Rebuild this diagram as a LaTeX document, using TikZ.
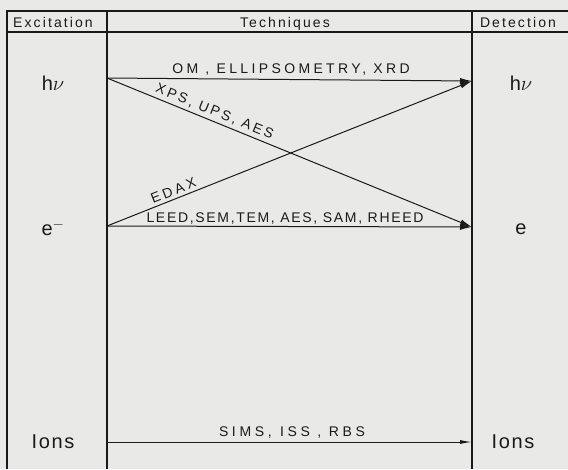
\documentclass[tikz,border=0pt]{standalone}
\usepackage{fontspec}
\setmainfont{Liberation Sans}
\usetikzlibrary{arrows.meta}
\definecolor{paper}{HTML}{E9E9E7}
\definecolor{ink}{HTML}{1A1A1A}
\tikzset{
  frame/.style={line width=1.3pt, draw=ink},
  conn/.style={line width=1pt, draw=ink, -{Latex[length=12pt,width=6pt]}},
  thinconn/.style={line width=1pt, draw=ink, -{Latex[length=12pt,width=4pt]}},
  head/.style={font=\fontsize{14pt}{16pt}\selectfont\addfontfeature{LetterSpace=15}, text=ink, inner sep=0pt, anchor=base},
  lab/.style={font=\fontsize{20pt}{22pt}\selectfont\addfontfeature{LetterSpace=8}, text=ink, inner sep=0pt},
  tech/.style={font=\fontsize{14pt}{16pt}\selectfont\addfontfeature{LetterSpace=#1}, text=ink, inner sep=0pt, anchor=base},
  tech/.default=20
}
\begin{document}
\begin{tikzpicture}[x=1pt,y=-1pt]
\fill[paper] (0,0) rectangle (568,469);
\useasboundingbox (0,0) rectangle (568,469);
% frame
\draw[frame] (7,469) -- (7,11) -- (568,11);
\draw[frame] (7,32) -- (568,32);
\draw[frame] (107,11) -- (107,469);
\draw[frame] (472,11) -- (472,469);
% headers
\node[head] (hex) at (53,27) {Excitation};
\node[head] (hte) at (285,27) {Techniques};
\node[head] (hde) at (518,27) {Detection};
% side labels
\node[lab] (exH) at (53,83) {h$\nu$};
\node[lab] (exE) at (53,228) {e$^{-}$};
\node[lab] (exI) at (53,442) {Ions};
\node[lab] (deH) at (521,83) {h$\nu$};
\node[lab] (deE) at (521,229) {e};
\node[lab] (deI) at (513,442) {Ions};
% anchor points on the column lines
\coordinate (hL) at (107,78);
\coordinate (eL) at (107,226);
\coordinate (iL) at (107,442);
\coordinate (hR) at (472,81);
\coordinate (eR) at (472,227);
\coordinate (iR) at (472,442);
% connectors
\draw[conn] (hL) -- (hR);
\draw[conn] (hL) -- node[tech=18, sloped, pos=0.285, anchor=south, inner sep=3pt] (lxps) {XPS, UPS, AES} (eR);
\draw[conn] (eL) -- node[tech=22, sloped, pos=0.19, anchor=south, inner sep=3pt] (ledax) {EDAX} (hR);
\draw[conn] (eL) -- (eR);
\draw[thinconn] (iL) -- (iR);
% technique labels
\node[tech=24] (lom) at (291,73) {OM , ELLIPSOMETRY, XRD};
\node[tech=12] (lleed) at (285,222) {LEED,SEM,TEM, AES, SAM, RHEED};
\node[tech=26] (lsims) at (292,436) {SIMS,\hspace{0.6em}ISS , RBS};
\end{tikzpicture}
\end{document}
